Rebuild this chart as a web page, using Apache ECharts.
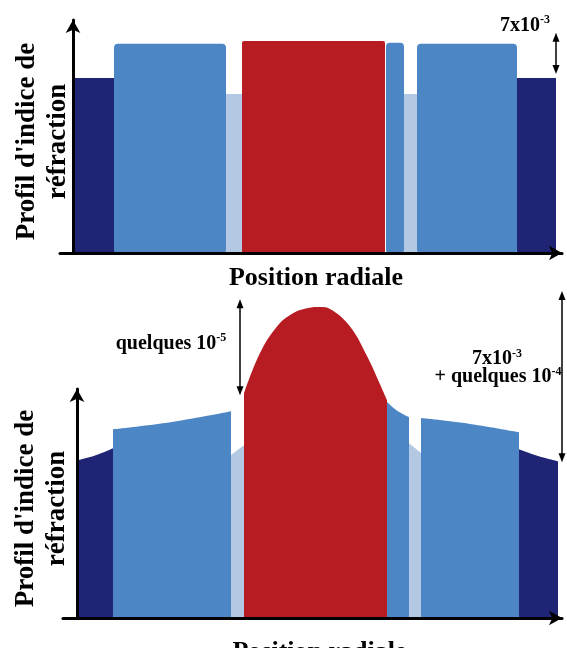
<!DOCTYPE html>
<html>
<head>
<meta charset="utf-8">
<script src="https://cdn.jsdelivr.net/npm/echarts@6/dist/echarts.min.js"></script>
<style>
html,body{margin:0;padding:0;background:#fff;}
#chart{width:567px;height:648px;}
</style>
</head>
<body>
<div id="chart"></div>
<script>
// ---------- DATA ----------
// Top panel: step-index profile (x: radial position, arbitrary units; y: index, arbitrary units)
const topZone  = ['gaine', 'anneau', 'tranchee', 'coeur', 'anneau', 'tranchee', 'anneau', 'gaine'];
const topStart = [0, 41, 153, 169, 313, 331, 344, 444];
const topEnd   = [45, 153, 169, 312, 331, 344, 444, 483];
const topLevel = [36, 43, 32.7, 43.6, 43.2, 32.7, 43, 36];

// Bottom panel: graded profile, one small array of [x, y] per zone
const botGaineL    = [[0, 32.5], [18, 33.5], [36, 35.0]];
const botAnneauL   = [[36, 38.9], [95, 40.4], [154, 42.6]];
const botTrancheeL = [[154, 33.6], [167, 35.6]];
const botCoeur     = [[167, 46.3], [183, 54.6], [200, 60.1], [216, 62.8], [231, 63.9], [243, 64.1],
                      [253, 63.7], [273, 60.1], [290, 54.0], [303, 48.2], [310, 44.9]];
const botAnneauC   = [[310, 44.5], [321, 42.6], [332, 41.4]];
const botTrancheeR = [[332, 36.0], [344, 34.0]];
const botAnneauR   = [[344, 41.2], [393, 40.0], [442, 38.3]];
const botGaineR    = [[442, 34.8], [461, 33.4], [481, 32.3]];
const botZones = [
  ['gaine', botGaineL], ['anneau', botAnneauL], ['tranchee', botTrancheeL], ['coeur', botCoeur],
  ['anneau', botAnneauC], ['tranchee', botTrancheeR], ['anneau', botAnneauR], ['gaine', botGaineR]
];

// Annotation arrows [x, yFrom, yTo]
const topArrows = [[483, 36.8, 45.3]];
const botArrows = [[163, 45.9, 65.7], [485, 32.1, 67.4]];

// Texts
const xName = 'Position radiale';
const yName = "Profil d'indice de\nréfraction";
const topNote  = ['7x10', '-3'];
const botNoteL = ['quelques 10', '-5'];
const botNoteR1 = ['7x10', '-3'];
const botNoteR2 = ['+ quelques 10', '-4'];

// ---------- STYLE ----------
const zoneColor = { gaine: '#1f2474', anneau: '#4d86c5', tranchee: '#b2c8e3', coeur: '#b71c22' };
const zoneRadius = { gaine: 0, anneau: [4, 4, 3, 3], tranchee: 0, coeur: [2, 2, 0, 0] };
const FONT = "'Liberation Serif', 'Times New Roman', serif";

const chart = echarts.init(document.getElementById('chart'), null, { renderer: 'canvas' });

function axisPair(gridIndex, xmin, xmax, ymax, nameGapX, nameGapY, padX) {
  const common = {
    gridIndex: gridIndex, type: 'value', z: 10,
    axisTick: { show: false }, axisLabel: { show: false }, splitLine: { show: false },
    axisLine: { show: true, symbol: ['none', 'arrow'], symbolSize: [11, 13],
                lineStyle: { color: '#000', width: 3 } }
  };
  return {
    x: Object.assign({}, common, {
      min: xmin, max: xmax, name: xName, nameLocation: 'middle', nameGap: nameGapX,
      nameTextStyle: { fontFamily: FONT, fontWeight: 'bold', fontSize: 26, color: '#000', padding: [0, 0, 0, padX] }
    }),
    y: Object.assign({}, common, {
      min: 0, max: ymax, name: yName, nameLocation: 'middle', nameGap: nameGapY, nameRotate: 90,
      nameTextStyle: { fontFamily: FONT, fontWeight: 'bold', fontSize: 27, lineHeight: 31, color: '#000',
                       align: 'center', padding: [0, 10, 0, 0] }
    })
  };
}

const a0 = axisPair(0, -13, 489, 47.9, 12, -14, 10);
const a1 = axisPair(1, -14, 485, 47.2, 21, -10, 14);

function arrowItem(params, api) {
  const p0 = api.coord([api.value(0), api.value(1)]);
  const p1 = api.coord([api.value(0), api.value(2)]);
  const top = Math.min(p0[1], p1[1]), bot = Math.max(p0[1], p1[1]);
  const x = p0[0], hw = 3.5, hh = 9;
  return {
    type: 'group',
    children: [
      { type: 'line', shape: { x1: x, y1: top + hh - 1, x2: x, y2: bot - hh + 1 }, style: { stroke: '#000', lineWidth: 1.5 } },
      { type: 'polygon', shape: { points: [[x, top], [x - hw, top + hh], [x + hw, top + hh]] }, style: { fill: '#000' } },
      { type: 'polygon', shape: { points: [[x, bot], [x - hw, bot - hh], [x + hw, bot - hh]] }, style: { fill: '#000' } }
    ]
  };
}

const series = [];
series.push({
  type: 'custom', xAxisIndex: 0, yAxisIndex: 0, silent: true, clip: false,
  data: topStart.map((s, i) => [s, topEnd[i], topLevel[i], i]),
  renderItem: function (params, api) {
    const i = api.value(3);
    const p0 = api.coord([api.value(0), api.value(2)]);
    const p1 = api.coord([api.value(1), 0]);
    return {
      type: 'rect',
      shape: { x: p0[0], y: p0[1], width: p1[0] - p0[0], height: p1[1] - p0[1], r: zoneRadius[topZone[i]] },
      style: { fill: zoneColor[topZone[i]] }
    };
  }
});
series.push({
  type: 'custom', xAxisIndex: 0, yAxisIndex: 0, silent: true, clip: false, z: 20,
  data: topArrows, renderItem: arrowItem
});
botZones.forEach(function (z) {
  series.push({
    type: 'line', xAxisIndex: 1, yAxisIndex: 1, data: z[1], clip: false, silent: true,
    smooth: 0.4, showSymbol: false, symbol: 'none',
    lineStyle: { width: 0, color: zoneColor[z[0]] },
    areaStyle: { color: zoneColor[z[0]], opacity: 1, origin: 'start' }
  });
});
series.push({
  type: 'custom', xAxisIndex: 1, yAxisIndex: 1, silent: true, clip: false, z: 20,
  data: botArrows, renderItem: arrowItem
});

chart.setOption({
  animation: false,
  backgroundColor: '#fff',
  grid: [
    { left: 60, right: 5, top: 20, bottom: 395, outerBoundsMode: 'none', containLabel: false },
    { left: 63, right: 5, top: 389, bottom: 30, outerBoundsMode: 'none', containLabel: false }
  ],
  xAxis: [a0.x, a1.x],
  yAxis: [a0.y, a1.y],
  series: series
});

function note(parts, gridIndex, x, y, align) {
  const p = chart.convertToPixel({ gridIndex: gridIndex }, [x, y]);
  return {
    type: 'text', x: p[0], y: p[1], z: 100, silent: true,
    style: {
      text: '{n|' + parts[0] + '}{s|' + parts[1] + '}',
      align: align, verticalAlign: 'middle',
      rich: {
        n: { fontFamily: FONT, fontWeight: 'bold', fontSize: 20, lineHeight: 22, fill: '#000' },
        s: { fontFamily: FONT, fontWeight: 'bold', fontSize: 12, lineHeight: 22, verticalAlign: 'top', fill: '#000' }
      }
    }
  };
}

chart.setOption({
  graphic: [
    note(topNote, 0, 477, 46.8, 'right'),
    note(botNoteL, 1, 94, 56.6, 'center'),
    note(botNoteR1, 1, 420, 53.4, 'center'),
    note(botNoteR2, 1, 421, 49.7, 'center')
  ]
});
</script>
</body>
</html>
